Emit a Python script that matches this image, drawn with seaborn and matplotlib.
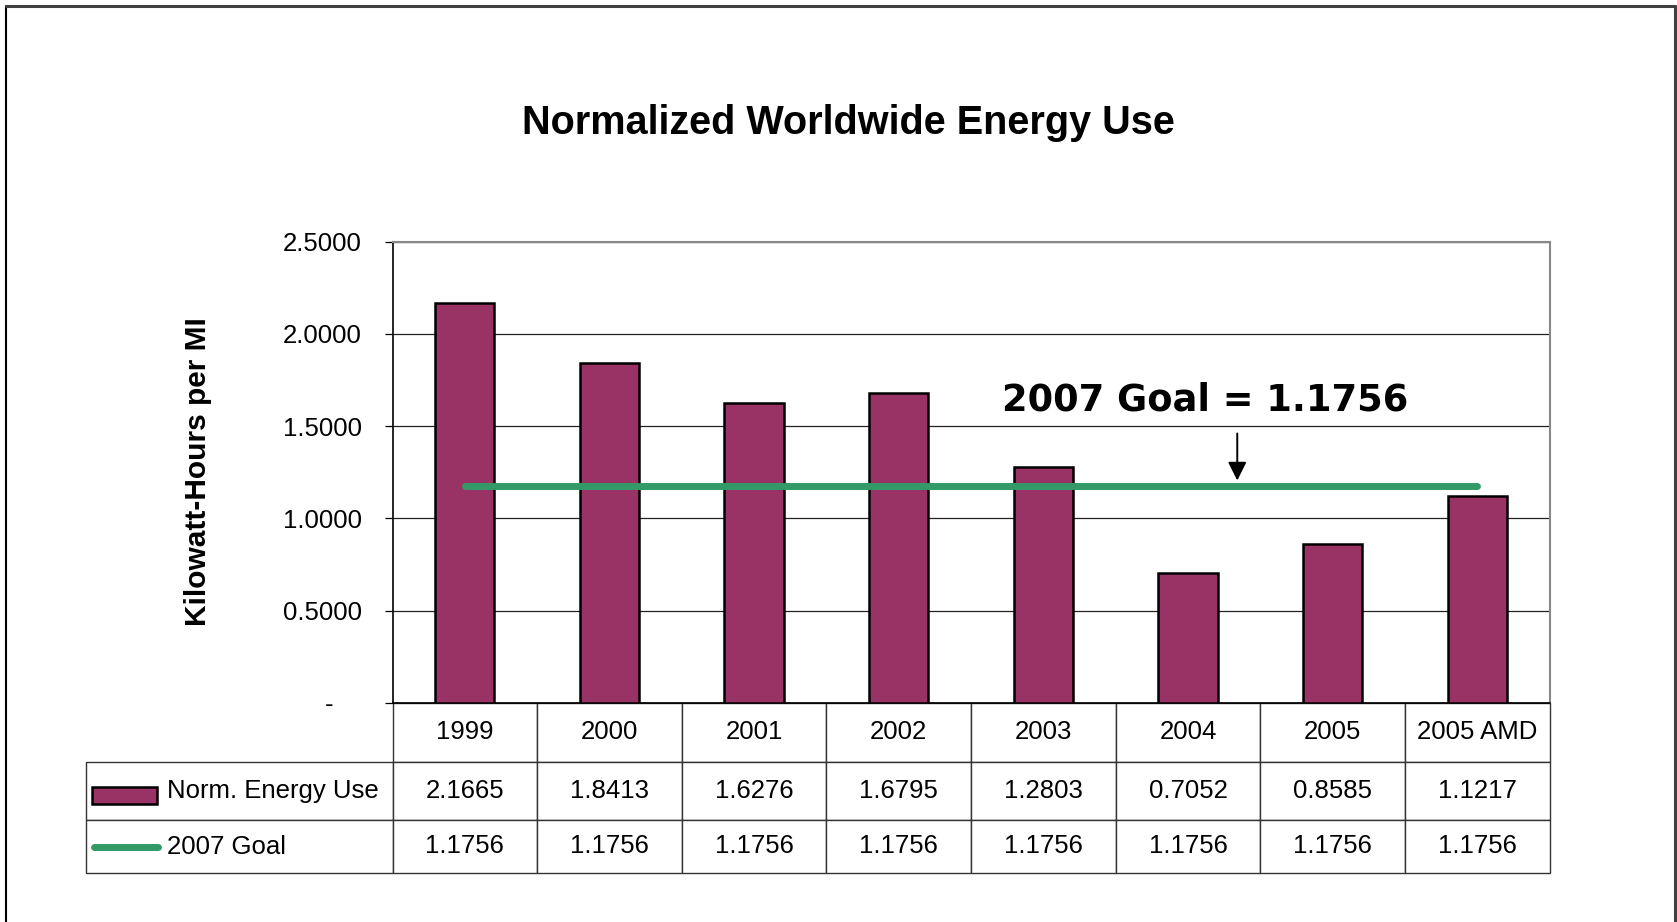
import numpy as np
import matplotlib
matplotlib.use("Agg")
import matplotlib.pyplot as plt
import seaborn as sns
from matplotlib.patches import Rectangle
from matplotlib.lines import Line2D

# data
years = ["1999", "2000", "2001", "2002", "2003", "2004", "2005", "2005 AMD"]
energy_use = [2.1665, 1.8413, 1.6276, 1.6795, 1.2803, 0.7052, 0.8585, 1.1217]
goal = [1.1756] * len(years)
y_ticks = [0.0, 0.5, 1.0, 1.5, 2.0, 2.5]
row_labels = ["Norm. Energy Use", "2007 Goal"]

BAR = "#993366"
GREEN = "#339966"

sns.set_style("white")
plt.rcParams["font.family"] = ["Liberation Sans", "DejaVu Sans"]
plt.rcParams.update({"text.color": "black", "axes.labelcolor": "black",
                     "xtick.color": "black", "ytick.color": "black"})

W, H = 1677, 922
fig = plt.figure(figsize=(W / 100, H / 100), dpi=100)
ax = fig.add_axes([392.5 / W, 1 - 702.7 / H, 1157.2 / W, 461 / H])

sns.barplot(x=years, y=energy_use, color=BAR, saturation=1, width=0.41,
            edgecolor="black", linewidth=1.8, ax=ax, zorder=3)
sns.lineplot(x=np.arange(len(years)), y=goal, color=GREEN, lw=5,
             solid_capstyle="round", ax=ax, zorder=4)

ax.set_xlim(-0.5, len(years) - 0.5)
ax.set_ylim(0, 2.5)
ax.set_yticks(y_ticks)
ax.set_yticklabels(["-    " if v == 0 else f"{v:.4f}" for v in y_ticks], fontsize=18.5)
ax.tick_params(axis="y", direction="out", length=5.5, width=0.9, pad=16.5, color="black", left=True)
ax.tick_params(axis="x", length=0, labelbottom=False)
ax.set_xlabel("")
ax.set_ylabel("")
ax.yaxis.grid(True, color="#222222", lw=0.9)
ax.set_axisbelow(True)
for side in ["left", "bottom"]:
    ax.spines[side].set_color("black")
    ax.spines[side].set_linewidth(1.2)
for side in ["top", "right"]:
    ax.spines[side].set_color("#888888")
    ax.spines[side].set_linewidth(1.5)

# goal annotation
ax.annotate("", xy=(5.34, 1.19), xytext=(5.34, 1.475),
            arrowprops=dict(arrowstyle="-|>", color="black", lw=1.4, mutation_scale=28))
ax.text(5.12, 1.64, "2007 Goal = 1.1756", ha="center", va="center",
        family="DejaVu Sans", fontweight="bold", fontsize=26.5)

# data table below the axes
cells = [[""] + [f"{v:.4f}" for v in energy_use],
         [""] + [f"{v:.4f}" for v in goal]]
first_w = 307 / 1157.2
tbl = ax.table(cellText=cells, colLabels=[""] + years,
               colWidths=[first_w] + [1 / len(years)] * len(years),
               cellLoc="center", bbox=[-first_w, -170 / 461, 1 + first_w, 170 / 461])
tbl.auto_set_font_size(False)
tbl.set_fontsize(18.5)
row_h = [59, 58.3, 52.7]
for (r, c), cell in tbl.get_celld().items():
    cell.set_height(row_h[r])
    cell.set_edgecolor("#333333")
    cell.set_linewidth(1.0)
    cell.get_text().set_color("black")
tbl[0, 0].visible_edges = "open"

label_x = (167 - 392.5) / 1157.2
ax.text(label_x, (702.7 - 791) / 461, row_labels[0], transform=ax.transAxes,
        ha="left", va="center", fontsize=18.5)
ax.text(label_x, (702.7 - 846.5) / 461, row_labels[1], transform=ax.transAxes,
        ha="left", va="center", fontsize=18.5)
ax.add_patch(Rectangle(((91.7 - 392.5) / 1157.2, (702.7 - 804) / 461), 65 / 1157.2, 17.3 / 461,
                       transform=ax.transAxes, facecolor=BAR, edgecolor="black", lw=1.8,
                       clip_on=False, zorder=5))
ax.add_line(Line2D([(93.5 - 392.5) / 1157.2, (158 - 392.5) / 1157.2],
                   [(702.7 - 847.3) / 461] * 2, transform=ax.transAxes, color=GREEN, lw=5,
                   solid_capstyle="round", clip_on=False, zorder=5))

# titles
fig.text(848 / W, 1 - 123 / H, "Normalized Worldwide Energy Use", ha="center", va="center",
         fontsize=28.5, fontweight="bold")
fig.text(198 / W, 1 - 472 / H, "Kilowatt-Hours per MI", ha="center", va="center",
         rotation=90, fontsize=21.5, fontweight="bold")

# outer frame
fig.add_artist(Line2D([6 / W, 6 / W], [0, 1 - 6 / H], color="black", lw=1.5))
fig.add_artist(Line2D([6 / W, 1675 / W], [1 - 6 / H, 1 - 6 / H], color="#404040", lw=2.2))
fig.add_artist(Line2D([1675 / W, 1675 / W], [0, 1 - 6 / H], color="#404040", lw=2.2))

fig.savefig("out.png", dpi=100)
